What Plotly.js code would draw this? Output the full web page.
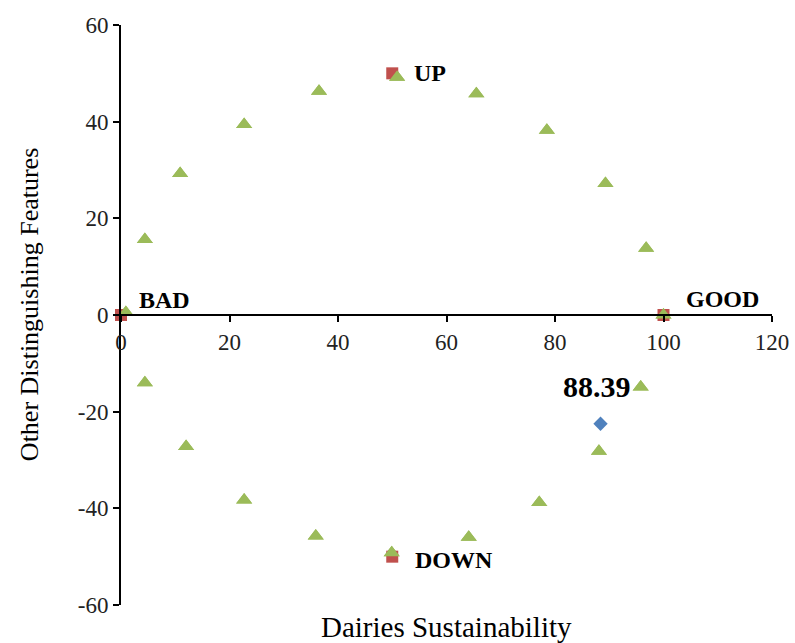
<!DOCTYPE html>
<html>
<head>
<meta charset="utf-8">
<script src="https://cdn.plot.ly/plotly-3.0.1.min.js"></script>
<style>html,body{margin:0;padding:0;background:#fff;}#chart{width:795px;height:643px;}</style>
</head>
<body>
<div id="chart"></div>
<script>
// Green triangles (scale circle points)
var circleX = [0.9, 4.4, 10.9, 22.7, 36.5, 50.9, 65.5, 78.5, 89.3, 96.8, 100.0, 95.8, 88.1, 77.1, 64.1, 49.9, 35.9, 22.7, 12.0, 4.4];
var circleY = [0.5, 15.6, 29.3, 39.4, 46.3, 49.2, 45.8, 38.2, 27.2, 13.8, 0.0, -14.9, -28.2, -38.8, -46.0, -49.2, -45.7, -38.3, -27.2, -14.0];
// Red squares (reference anchors)
var refLabels = ["BAD", "GOOD", "UP", "DOWN"];
var refX = [0, 100, 50, 50];
var refY = [0, 0, 50, -50];
// Blue diamond (dairies sustainability score)
var scoreX = [88.39];
var scoreY = [-22.5];
var scoreLabel = ["88.39"];
var xTicks = [0, 20, 40, 60, 80, 100, 120];
var yTicks = [-60, -40, -20, 0, 20, 40, 60];

var font = "Liberation Serif, Times New Roman, serif";

var traces = [
  {x: circleX, y: circleY, type: 'scatter', mode: 'markers', cliponaxis: false,
   marker: {symbol: 'triangle-up', size: 14, color: '#9BBB59'}},
  {x: refX, y: refY, type: 'scatter', mode: 'markers', cliponaxis: false,
   marker: {symbol: 'square', size: 12, color: '#C0504D'}},
  {x: scoreX, y: scoreY, type: 'scatter', mode: 'markers', cliponaxis: false,
   marker: {symbol: 'diamond', size: 11, color: '#4F81BD'}}
];
// green triangles drawn over the squares again, as layered in the reference
traces.push({x: circleX, y: circleY, type: 'scatter', mode: 'markers', cliponaxis: false, hoverinfo: 'skip',
   marker: {symbol: 'triangle-up', size: 14, color: '#9BBB59'}});

var labelShift = {BAD: [16, 15], GOOD: [20, 16], UP: [20, 0], DOWN: [21, -3]};
var annotations = refLabels.map(function (t, i) {
  return {x: refX[i], y: refY[i], xref: 'x', yref: 'y', text: '<b>' + t + '</b>', showarrow: false,
    xanchor: 'left', yanchor: 'middle', xshift: labelShift[t][0], yshift: labelShift[t][1],
    font: {family: font, size: 24, color: '#000'}};
});
annotations.push({x: scoreX[0], y: scoreY[0], xref: 'x', yref: 'y', text: '<b>' + scoreLabel[0] + '</b>', showarrow: false,
  xanchor: 'center', yanchor: 'middle', xshift: -4, yshift: 37, font: {family: font, size: 30, color: '#000'}});
annotations.push({x: 0.5, y: 0, xref: 'paper', yref: 'paper', text: 'Dairies Sustainability', showarrow: false,
  xanchor: 'center', yanchor: 'middle', yshift: -22, font: {family: font, size: 29, color: '#000'}});
annotations.push({x: 0, y: 0.517, xref: 'paper', yref: 'paper', text: 'Other Distinguishing Features', showarrow: false,
  textangle: -90, xanchor: 'center', yanchor: 'middle', xshift: -92, font: {family: font, size: 26, color: '#000'}});

var layout = {
  width: 795, height: 643,
  margin: {l: 121, r: 23, t: 25, b: 38},
  paper_bgcolor: '#fff', plot_bgcolor: '#fff',
  showlegend: false,
  font: {family: font, color: '#000'},
  xaxis: {range: [0, 120], tickvals: xTicks, ticktext: xTicks.map(String), showgrid: false, zeroline: false,
    showline: true, linecolor: '#000', linewidth: 2, ticks: 'outside', ticklen: 6, tickwidth: 2, tickcolor: '#000',
    anchor: 'free', position: 0.5, tickfont: {family: font, size: 23, color: '#222'}},
  yaxis: {range: [-60, 60], tickvals: yTicks, ticktext: yTicks.map(String), showgrid: false, zeroline: false,
    showline: true, linecolor: '#000', linewidth: 2, ticks: 'outside', ticklen: 6, tickwidth: 2, tickcolor: '#000',
    tickfont: {family: font, size: 23, color: '#222'}},
  annotations: annotations
};
Plotly.newPlot('chart', traces, layout, {displayModeBar: false});
</script>
</body>
</html>
